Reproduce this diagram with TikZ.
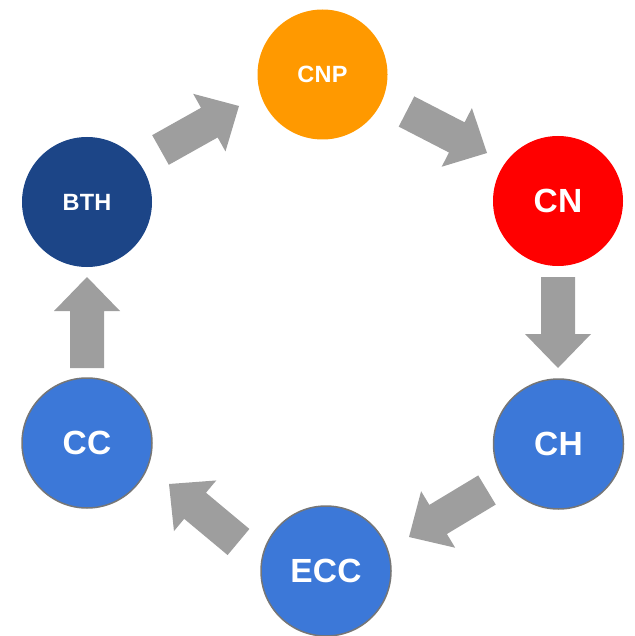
\documentclass[tikz,border=0pt]{standalone}
\usepackage{fontspec}
\setmainfont{Liberation Sans}
\usetikzlibrary{calc}
\definecolor{cnpc}{HTML}{FF9900}
\definecolor{cnc}{HTML}{FF0000}
\definecolor{bluec}{HTML}{3C78D8}
\definecolor{bthc}{HTML}{1C4587}
\definecolor{arrgray}{HTML}{9E9E9E}
\definecolor{circborder}{HTML}{767676}
\tikzset{
  circ/.style={circle, minimum size=130pt, inner sep=0pt, text=white, font=\bfseries\fontsize{33.5}{33.5}\selectfont\addfontfeature{LetterSpace=1}},
  smalltext/.style={font=\bfseries\fontsize{23.5}{23.5}\selectfont\addfontfeature{LetterSpace=1}},
  bordered/.style={draw=circborder, line width=1.5pt},
  arr/.style={fill=arrgray, draw=none}
}
\newcommand\blockarr[2]{%
  \coordinate (#1h) at ($(#2)!34pt!(#1)$);
  \fill[arr] ($(#1)!17pt!90:(#2)$) -- ($(#1h)!17pt!90:(#2)$) -- ($(#1h)!33pt!90:(#2)$) -- (#2)
    -- ($(#1h)!33pt!-90:(#2)$) -- ($(#1h)!17pt!-90:(#2)$) -- ($(#1)!17pt!-90:(#2)$) -- cycle;}
\begin{document}
\begin{tikzpicture}[x=1pt,y=-1pt]
\useasboundingbox (0,0) rectangle (634,636);
\node[circ, smalltext, fill=cnpc] (cnp) at (322.5,74.5) {CNP};
\node[circ, fill=cnc] (cn) at (558,201) {CN};
\node[circ, bordered, fill=bluec] (ch) at (558.5,444) {CH};
\node[circ, bordered, fill=bluec] (ecc) at (326,571) {ECC};
\node[circ, bordered, fill=bluec] (cc) at (87,443) {CC};
\node[circ, smalltext, fill=bthc] (bth) at (87,202) {BTH};
% arrow tails and tips
\coordinate (t1) at (87,368);      \coordinate (p1) at (87,277);
\coordinate (t2) at (160.5,150);   \coordinate (p2) at (239,106);
\coordinate (t3) at (406.5,111.5); \coordinate (p3) at (487,153);
\coordinate (t4) at (558,277);     \coordinate (p4) at (558,368);
\coordinate (t5) at (487,490);     \coordinate (p5) at (409,537);
\coordinate (t6) at (238.5,542);   \coordinate (p6) at (169,484);
\blockarr{t1}{p1}
\blockarr{t2}{p2}
\blockarr{t3}{p3}
\blockarr{t4}{p4}
\blockarr{t5}{p5}
\blockarr{t6}{p6}
\end{tikzpicture}
\end{document}
